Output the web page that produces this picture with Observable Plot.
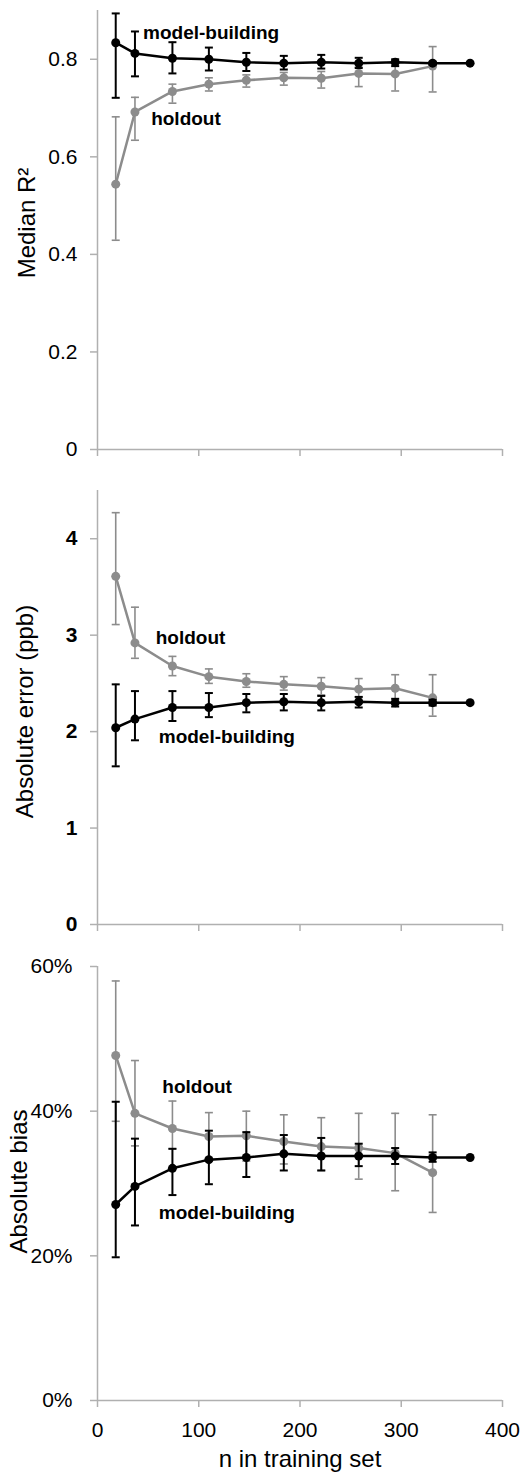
<!DOCTYPE html>
<html>
<head>
<meta charset="utf-8">
<script src="https://cdn.jsdelivr.net/npm/d3@7"></script>
<script src="https://cdn.jsdelivr.net/npm/@observablehq/plot@0.6"></script>
<style>
  body { margin: 0; background: #fff; }
  #chart svg { display: block; }
</style>
</head>
<body>
<div id="chart"></div>
<script>
// ---------- data ----------
const nTrain = [18, 37, 74, 110, 147, 184, 221, 258, 294, 331, 368];
const xTicks = [0, 100, 200, 300, 400];

// Median R²
const r2Model   = [0.834, 0.812, 0.802, 0.800, 0.794, 0.792, 0.794, 0.792, 0.794, 0.792, 0.792];
const r2ModelLo = [0.721, 0.765, 0.771, 0.777, 0.776, 0.779, 0.781, 0.782, 0.786, 0.789, null];
const r2ModelHi = [0.894, 0.857, 0.835, 0.824, 0.813, 0.807, 0.809, 0.803, 0.800, 0.795, null];
const r2Hold    = [0.544, 0.692, 0.734, 0.749, 0.757, 0.762, 0.761, 0.771, 0.770, 0.786];
const r2HoldLo  = [0.429, 0.634, 0.710, 0.735, 0.743, 0.747, 0.741, 0.744, 0.735, 0.733];
const r2HoldHi  = [0.682, 0.722, 0.749, 0.762, 0.768, 0.773, 0.775, 0.784, 0.794, 0.826];
const r2Ticks   = [0, 0.2, 0.4, 0.6, 0.8];

// Absolute error (ppb)
const errModel   = [2.04, 2.13, 2.25, 2.25, 2.30, 2.31, 2.30, 2.31, 2.30, 2.30, 2.30];
const errModelLo = [1.64, 1.91, 2.11, 2.15, 2.20, 2.22, 2.22, 2.25, 2.26, 2.27, null];
const errModelHi = [2.49, 2.42, 2.42, 2.40, 2.39, 2.39, 2.37, 2.36, 2.34, 2.33, null];
const errHold    = [3.61, 2.92, 2.68, 2.57, 2.52, 2.49, 2.47, 2.44, 2.45, 2.35];
const errHoldLo  = [3.11, 2.76, 2.58, 2.50, 2.46, 2.43, 2.38, 2.36, 2.31, 2.16];
const errHoldHi  = [4.27, 3.29, 2.78, 2.65, 2.60, 2.57, 2.56, 2.55, 2.59, 2.59];
const errTicks   = [0, 1, 2, 3, 4];

// Absolute bias
const biasModel   = [0.271, 0.296, 0.321, 0.333, 0.336, 0.341, 0.338, 0.338, 0.338, 0.336, 0.336];
const biasModelLo = [0.198, 0.242, 0.284, 0.299, 0.309, 0.318, 0.318, 0.324, 0.327, 0.330, null];
const biasModelHi = [0.413, 0.362, 0.348, 0.373, 0.371, 0.367, 0.363, 0.355, 0.349, 0.343, null];
const biasHold    = [0.477, 0.397, 0.376, 0.365, 0.366, 0.358, 0.351, 0.349, 0.342, 0.315];
const biasHoldLo  = [0.386, 0.352, 0.348, 0.335, 0.331, 0.327, 0.318, 0.306, 0.290, 0.260];
const biasHoldHi  = [0.580, 0.470, 0.414, 0.398, 0.400, 0.395, 0.391, 0.397, 0.397, 0.395];
const biasTicks   = [0, 0.2, 0.4, 0.6];

const seriesNames = ["model-building", "holdout"];
const yTitles = ["Median R²", "Absolute error (ppb)", "Absolute bias"];
const xTitle = "n in training set";

// ---------- styling ----------
const BLACK = "#000000";
const GRAY = "#8c8c8c";
const AXIS = "#b0b0b0";
const FONT = "'Liberation Sans', Arial, Helvetica, sans-serif";

const capSymbol = {
  draw(context) { context.moveTo(-4, 0); context.lineTo(4, 0); }
};

function rows(v, lo, hi) {
  return v.map((d, i) => ({n: nTrain[i], v: d, lo: lo[i], hi: hi[i]}));
}

function seriesMarks(data, color, ebWidth) {
  const eb = data.filter(d => d.lo != null && d.hi != null);
  return [
    Plot.ruleX(eb, {x: "n", y1: "lo", y2: "hi", stroke: color, strokeWidth: ebWidth}),
    Plot.dot(eb, {x: "n", y: "lo", symbol: capSymbol, stroke: color, strokeWidth: ebWidth, fill: "none"}),
    Plot.dot(eb, {x: "n", y: "hi", symbol: capSymbol, stroke: color, strokeWidth: ebWidth, fill: "none"}),
    Plot.line(data, {x: "n", y: "v", stroke: color, strokeWidth: 2.5}),
    Plot.dot(data, {x: "n", y: "v", r: 4.5, fill: color, stroke: "none"})
  ];
}

function panel({height, marginTop, marginBottom, yDomain, yTicks, yFormat, yBold, yPad,
                model, hold, labels, yTitle, titleDx, titleDy, showX}) {
  const marks = [
    Plot.ruleX([0], {stroke: AXIS, strokeWidth: 1.5}),
    Plot.ruleY([0], {stroke: AXIS, strokeWidth: 1.5}),
    Plot.axisX({
      ticks: xTicks, tickSize: 7, tickPadding: 15, stroke: AXIS, strokeWidth: 1.5,
      fill: "#000", fontSize: 21, label: null,
      tickFormat: showX ? (d => String(d)) : (() => "")
    }),
    Plot.axisY({
      ticks: yTicks, tickSize: 7, tickPadding: yPad, stroke: AXIS, strokeWidth: 1.5,
      fill: "#000", fontSize: 21, fontWeight: yBold ? "bold" : "normal", label: null,
      tickFormat: yFormat
    }),
    ...seriesMarks(hold, GRAY, 1.6),
    ...seriesMarks(model, BLACK, 2),
    Plot.text(labels, {x: "n", y: "v", text: "t", textAnchor: "start", lineAnchor: "middle",
      fontSize: 19, fontWeight: "bold", fill: "#000"}),
    Plot.text([yTitle], {frameAnchor: "left", rotate: -90, dx: titleDx, dy: titleDy,
      textAnchor: "middle", lineAnchor: "middle", fontSize: 24, fill: "#000"})
  ];
  if (showX) {
    marks.push(Plot.text([xTitle], {frameAnchor: "bottom", dy: 59, textAnchor: "middle",
      lineAnchor: "middle", fontSize: 24, fill: "#000"}));
  }
  return Plot.plot({
    width: 524, height, marginLeft: 97, marginRight: 22, marginTop, marginBottom,
    style: {fontFamily: FONT, fontSize: "21px", background: "#fff", color: "#000", overflow: "visible"},
    x: {domain: [0, 400], label: null},
    y: {domain: yDomain, label: null},
    marks
  });
}

const chart = document.getElementById("chart");

chart.append(panel({
  height: 480, marginTop: 10, marginBottom: 31,
  yDomain: [0, 0.9], yTicks: r2Ticks, yFormat: d => String(d), yBold: false, yPad: 13,
  model: rows(r2Model, r2ModelLo, r2ModelHi), hold: rows(r2Hold, r2HoldLo, r2HoldHi),
  labels: [{t: seriesNames[0], n: 45, v: 0.854}, {t: seriesNames[1], n: 53, v: 0.677}],
  yTitle: yTitles[0], titleDx: -70, titleDy: -7, showX: false
}));

chart.append(panel({
  height: 475, marginTop: 10, marginBottom: 31,
  yDomain: [0, 4.5], yTicks: errTicks, yFormat: d => String(d), yBold: true, yPad: 13,
  model: rows(errModel, errModelLo, errModelHi), hold: rows(errHold, errHoldLo, errHoldHi),
  labels: [{t: seriesNames[1], n: 57.5, v: 2.97}, {t: seriesNames[0], n: 60.5, v: 1.944}],
  yTitle: yTitles[1], titleDx: -72, titleDy: 4, showX: false
}));

chart.append(panel({
  height: 520, marginTop: 11, marginBottom: 75,
  yDomain: [0, 0.6], yTicks: biasTicks, yFormat: d3.format(".0%"), yBold: false, yPad: 18,
  model: rows(biasModel, biasModelLo, biasModelHi), hold: rows(biasHold, biasHoldLo, biasHoldHi),
  labels: [{t: seriesNames[1], n: 64, v: 0.433}, {t: seriesNames[0], n: 60.5, v: 0.259}],
  yTitle: yTitles[2], titleDx: -78, titleDy: -2, showX: true
}));
</script>
</body>
</html>
